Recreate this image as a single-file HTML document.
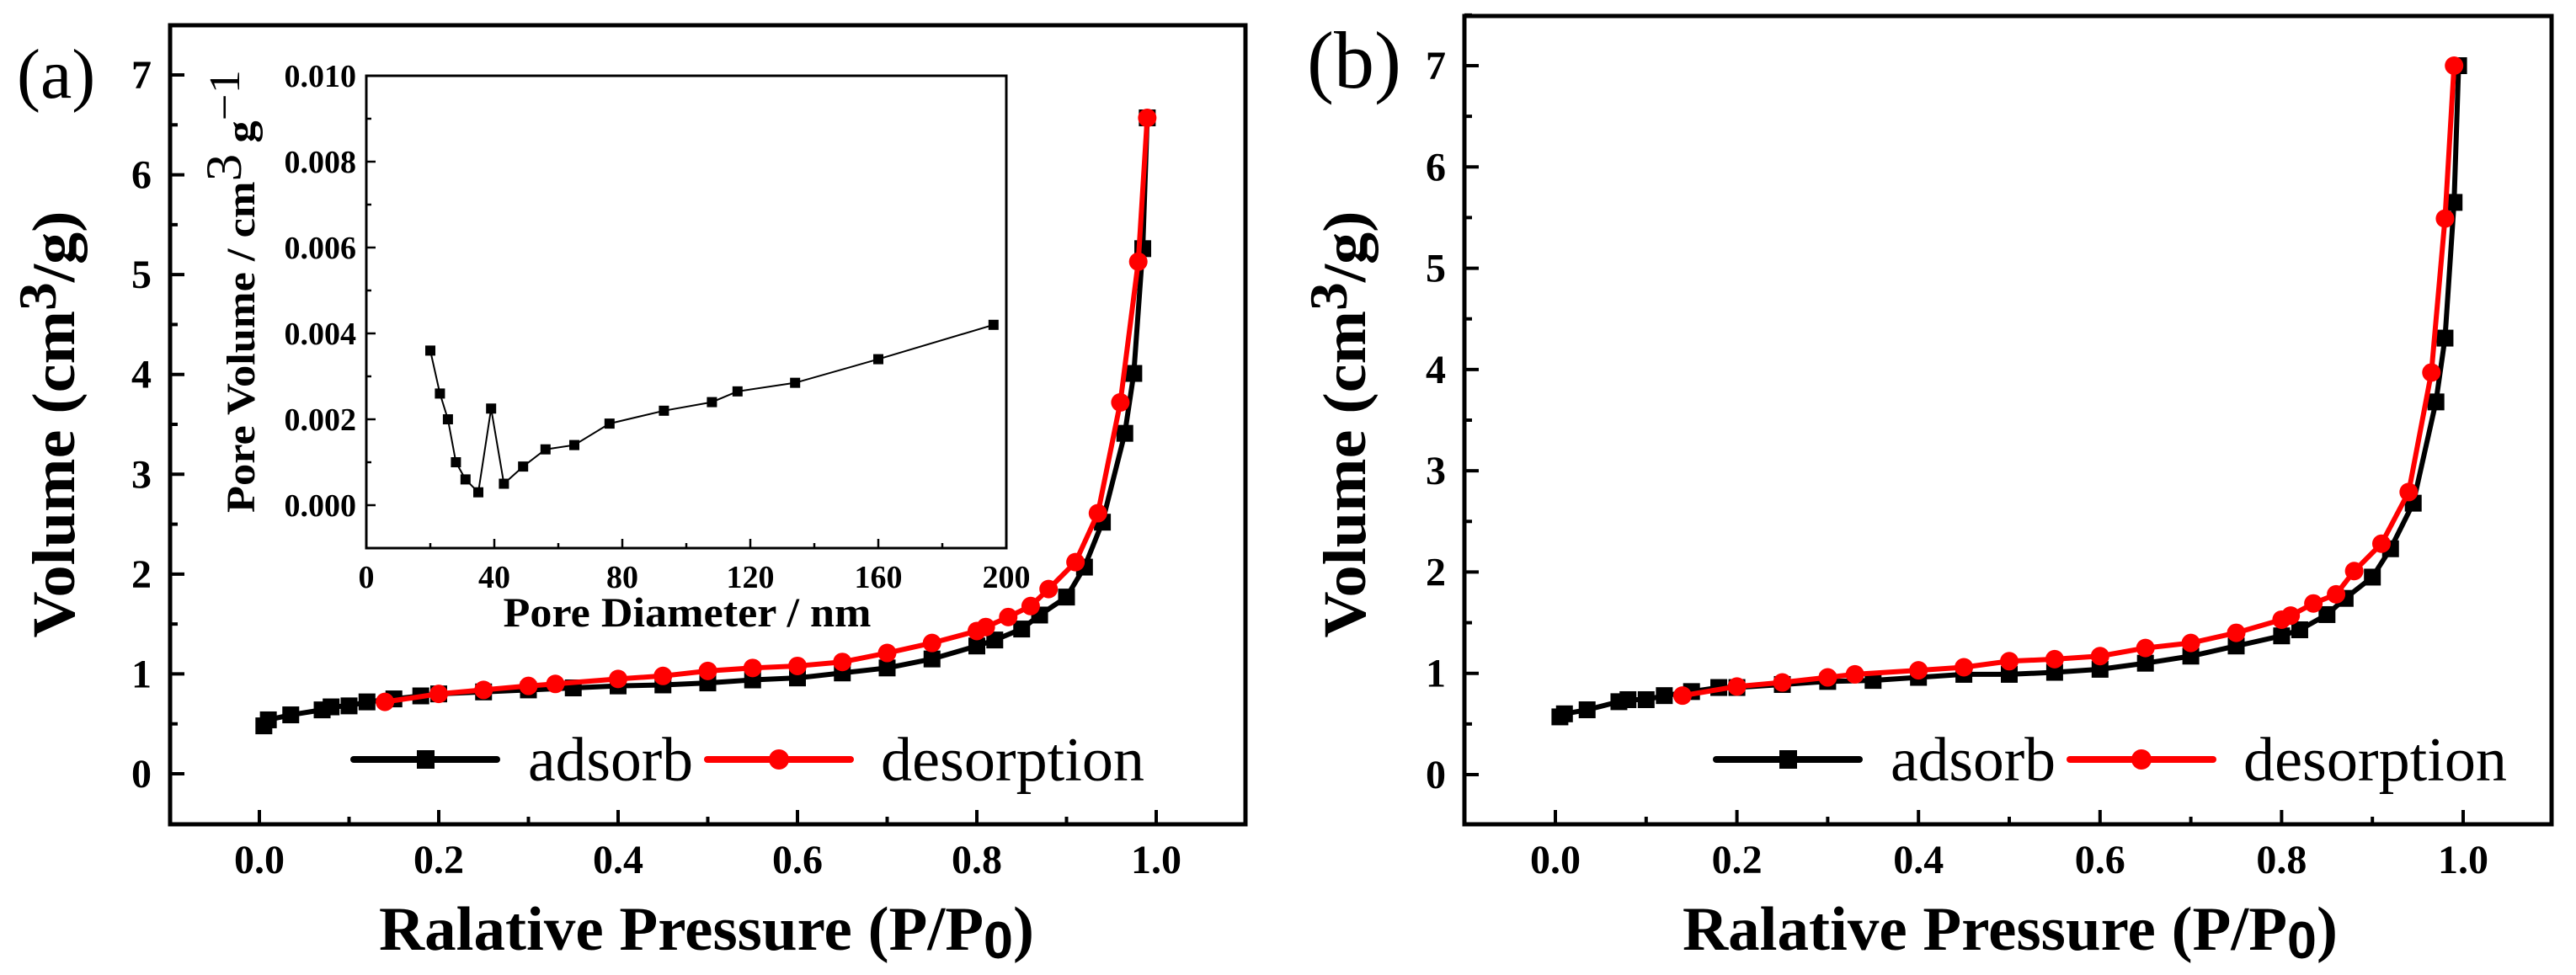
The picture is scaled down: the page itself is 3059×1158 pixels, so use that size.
<!DOCTYPE html>
<html><head><meta charset="utf-8"><style>
html,body{margin:0;padding:0;background:#fff;}
svg{display:block;}
text{font-family:"Liberation Serif","DejaVu Serif",serif;}
</style></head><body>
<svg id="fig" width="3059" height="1158" viewBox="0 0 3059 1158" xmlns="http://www.w3.org/2000/svg">
<g id="pa"></g>
<g id="pb"></g>
<g id="pi"></g>
</svg>
<script>
// Panel (a) data
const aAdsX=[0.005,0.01,0.035,0.07,0.08,0.1,0.12,0.15,0.18,0.2,0.25,0.3,0.35,0.4,0.45,0.5,0.55,0.6,0.65,0.7,0.75,0.8,0.82,0.85,0.87,0.9,0.92,0.94,0.965,0.975,0.985,0.99];
const aAdsY=[0.48,0.54,0.59,0.64,0.67,0.68,0.72,0.75,0.78,0.8,0.82,0.84,0.86,0.88,0.89,0.91,0.94,0.96,1.01,1.06,1.15,1.28,1.34,1.45,1.59,1.77,2.07,2.52,3.41,4.01,5.26,6.57];
const aDesX=[0.14,0.2,0.25,0.3,0.33,0.4,0.45,0.5,0.55,0.6,0.65,0.7,0.75,0.8,0.81,0.835,0.86,0.88,0.91,0.935,0.96,0.98,0.99];
const aDesY=[0.72,0.8,0.84,0.88,0.9,0.95,0.98,1.03,1.06,1.08,1.12,1.21,1.31,1.43,1.47,1.57,1.68,1.85,2.12,2.61,3.72,5.13,6.57];
// Panel (b) data
const bAdsX=[0.005,0.01,0.035,0.07,0.08,0.1,0.12,0.15,0.18,0.2,0.25,0.3,0.35,0.4,0.45,0.5,0.55,0.6,0.65,0.7,0.75,0.8,0.82,0.85,0.87,0.9,0.92,0.945,0.97,0.98,0.99,0.995];
const bAdsY=[0.57,0.6,0.64,0.72,0.74,0.74,0.78,0.82,0.86,0.86,0.89,0.92,0.93,0.96,0.99,0.99,1.01,1.04,1.1,1.17,1.27,1.37,1.43,1.58,1.74,1.95,2.23,2.68,3.68,4.31,5.65,7.0];
const bDesX=[0.14,0.2,0.25,0.3,0.33,0.4,0.45,0.5,0.55,0.6,0.65,0.7,0.75,0.8,0.81,0.835,0.86,0.88,0.91,0.94,0.965,0.98,0.99];
const bDesY=[0.78,0.87,0.91,0.96,0.99,1.03,1.06,1.12,1.14,1.17,1.25,1.3,1.4,1.53,1.57,1.69,1.78,2.01,2.28,2.79,3.97,5.49,7.0];
// Inset data
const poreD=[20,23,25.5,28,31,35,39,43,49,56,65,76,93,108,116,134,160,196];
const poreV=[0.0036,0.0026,0.002,0.001,0.0006,0.0003,0.00225,0.0005,0.0009,0.0013,0.0014,0.0019,0.0022,0.0024,0.00265,0.00285,0.0034,0.0042];
// Tick labels
const mainXTicks=["0.0","0.2","0.4","0.6","0.8","1.0"];
const mainYTicks=["0","1","2","3","4","5","6","7"];
const insetXTicks=["0","40","80","120","160","200"];
const insetYTicks=["0.000","0.002","0.004","0.006","0.008","0.010"];

const NS="http://www.w3.org/2000/svg";
function mk(parent,tag,attrs,txt){const e=document.createElementNS(NS,tag);for(const k in attrs)e.setAttribute(k,attrs[k]);if(txt!==undefined)e.textContent=txt;parent.appendChild(e);return e;}
function lin(d0,d1,r0,r1){return v=>r0+(v-d0)*(r1-r0)/(d1-d0);}

function panel(g,cfg){
  const X=lin(0,1,cfg.x0,cfg.x1), Y=lin(0,7,cfg.y0,cfg.y7);
  const L=cfg.L,R=cfg.R,T=cfg.T,B=cfg.B;
  for(let i=0;i<=10;i++){const v=i/10,x=X(v),len=i%2?9:17;
    const t=mk(g,'line',{x1:x,y1:B,x2:x,y2:B-len,stroke:'#000','stroke-width':4});
    
    }
  mainXTicks.forEach((s,i)=>{const t=mk(g,'text',{x:X(i*0.2),y:B+58,'text-anchor':'middle','font-size':48,'font-weight':'bold'},s);
    
    });
  for(let i=0;i<=15;i++){const v=i/2,y=Y(v),len=i%2?9:17;
    const t=mk(g,'line',{x1:L,y1:y,x2:L+len,y2:y,stroke:'#000','stroke-width':4});
    
    }
  mainYTicks.forEach((s,i)=>{const t=mk(g,'text',{x:L-22,y:Y(+s)+16,'text-anchor':'end','font-size':48,'font-weight':'bold'},s);
    
    });
  function series(xs,ys,color,shape,name){
    const sg=mk(g,'g',{});
    
    
    mk(sg,'polyline',{points:xs.map((x,i)=>X(x)+','+Y(ys[i])).join(' '),fill:'none',stroke:color,'stroke-width':6,'stroke-linejoin':'round'});
    xs.forEach((x,i)=>{let m;
      if(shape==='sq') m=mk(sg,'rect',{x:X(x)-10,y:Y(ys[i])-10,width:20,height:20,fill:color});
      else m=mk(sg,'circle',{cx:X(x),cy:Y(ys[i]),r:11,fill:color});
      
      });
  }
  series(cfg.ax,cfg.ay,'#000','sq','adsorb-series');
  series(cfg.dx,cfg.dy,'#ff0000','ci','desorption-series');
  const f=mk(g,'rect',{x:L,y:T,width:R-L,height:B-T,fill:'none',stroke:'#000','stroke-width':5});
  
  
  const lg=mk(g,'g',{});
  
  
  const ly=902,lx=cfg.lx;
  const e1=mk(lg,'g',{});
  
  
  mk(e1,'line',{x1:lx,y1:ly,x2:lx+170,y2:ly,stroke:'#000','stroke-width':8,'stroke-linecap':'round'});
  mk(e1,'rect',{x:lx+75,y:ly-11,width:21,height:22,fill:'#000'});
  mk(e1,'text',{x:lx+207,y:ly+25,'font-size':74,textLength:196,lengthAdjust:'spacingAndGlyphs'},'adsorb');
  const e2=mk(lg,'g',{});
  
  
  mk(e2,'line',{x1:lx+420,y1:ly,x2:lx+590,y2:ly,stroke:'#ff0000','stroke-width':8,'stroke-linecap':'round'});
  mk(e2,'circle',{cx:lx+505,cy:ly,r:12,fill:'#ff0000'});
  mk(e2,'text',{x:lx+626,y:ly+25,'font-size':74,textLength:313,lengthAdjust:'spacingAndGlyphs'},'desorption');
  const xt=mk(g,'text',{x:cfg.xtx,y:1128,'text-anchor':'middle','font-size':74,'font-weight':'bold',textLength:778,lengthAdjust:'spacingAndGlyphs'});
  
  
  xt.innerHTML='Ralative Pressure (P/P<tspan font-family="Liberation Sans, sans-serif" font-size="62" dy="10">0</tspan><tspan dy="-10">)</tspan>';
  const yt=mk(g,'text',{x:0,y:0,'text-anchor':'middle','font-size':72,'font-weight':'bold',transform:`translate(${cfg.ytx},${cfg.yty}) rotate(-90)`,textLength:507,lengthAdjust:'spacingAndGlyphs'});
  
  
  yt.innerHTML='Volume (cm<tspan dy="-22" font-size="64">3</tspan><tspan dy="22">/g)</tspan>';
  const pl=mk(g,'text',{x:cfg.plx,y:cfg.ply,'font-size':cfg.pls},cfg.label);
  
  
}

panel(document.getElementById('pa'),{L:202,R:1479,T:30,B:979,x0:308,x1:1373,y0:919,y7:89,
  ax:aAdsX,ay:aAdsY,dx:aDesX,dy:aDesY,lx:420,xtx:839,ytx:88,yty:504,plx:20,ply:116,pls:84,label:'(a)'});
panel(document.getElementById('pb'),{L:1739,R:3030,T:19,B:979,x0:1847,x1:2925,y0:920,y7:78,
  ax:bAdsX,ay:bAdsY,dx:bDesX,dy:bDesY,lx:2038,xtx:2387,ytx:1621,yty:504,plx:1552,ply:104,pls:96,label:'(b)'});

// Inset
(function(){
  const g=document.getElementById('pi');
  const L=435,R=1195,T=90,B=651;
  const X=lin(0,200,L,R), Y=lin(0,0.010,600,90);
  mk(g,'rect',{x:L,y:T,width:R-L,height:B-T,fill:'#fff',stroke:'#000','stroke-width':3});
  for(let i=0;i<=10;i++){const x=X(i*20),len=i%2?6:11;
    const t=mk(g,'line',{x1:x,y1:B,x2:x,y2:B-len,stroke:'#000','stroke-width':2.5});
    
    }
  insetXTicks.forEach(s=>{const t=mk(g,'text',{x:X(+s),y:B+47,'text-anchor':'middle','font-size':38,'font-weight':'bold'},s);
    
    });
  for(let i=-1;i<=10;i++){const y=Y(i*0.001),len=(i%2===0)?11:6;
    const t=mk(g,'line',{x1:L,y1:y,x2:L+len,y2:y,stroke:'#000','stroke-width':2.5});
    
    }
  insetYTicks.forEach(s=>{const t=mk(g,'text',{x:L-12,y:Y(+s)+13,'text-anchor':'end','font-size':38,'font-weight':'bold'},s);
    
    });
  const sg=mk(g,'g',{});
  
  
  mk(sg,'polyline',{points:poreD.map((d,i)=>X(d)+','+Y(poreV[i])).join(' '),fill:'none',stroke:'#000','stroke-width':2});
  poreD.forEach((d,i)=>{const m=mk(sg,'rect',{x:X(d)-6,y:Y(poreV[i])-6,width:12,height:12,fill:'#000'});
    
    });
  const xt=mk(g,'text',{x:816,y:744,'text-anchor':'middle','font-size':50,'font-weight':'bold',textLength:437,lengthAdjust:'spacingAndGlyphs'},'Pore Diameter / nm');
  
  
  const yt=mk(g,'text',{x:0,y:0,'text-anchor':'middle','font-size':48,'font-weight':'bold',transform:'translate(302,346) rotate(-90)',textLength:526,lengthAdjust:'spacingAndGlyphs'});
  
  
  yt.innerHTML='Pore Volume / cm<tspan dy="-16" font-size="60" font-weight="normal">3</tspan><tspan dy="16"> g</tspan><tspan dy="-18" font-size="52" font-weight="normal">−1</tspan>';
})();
</script>
</body></html>
